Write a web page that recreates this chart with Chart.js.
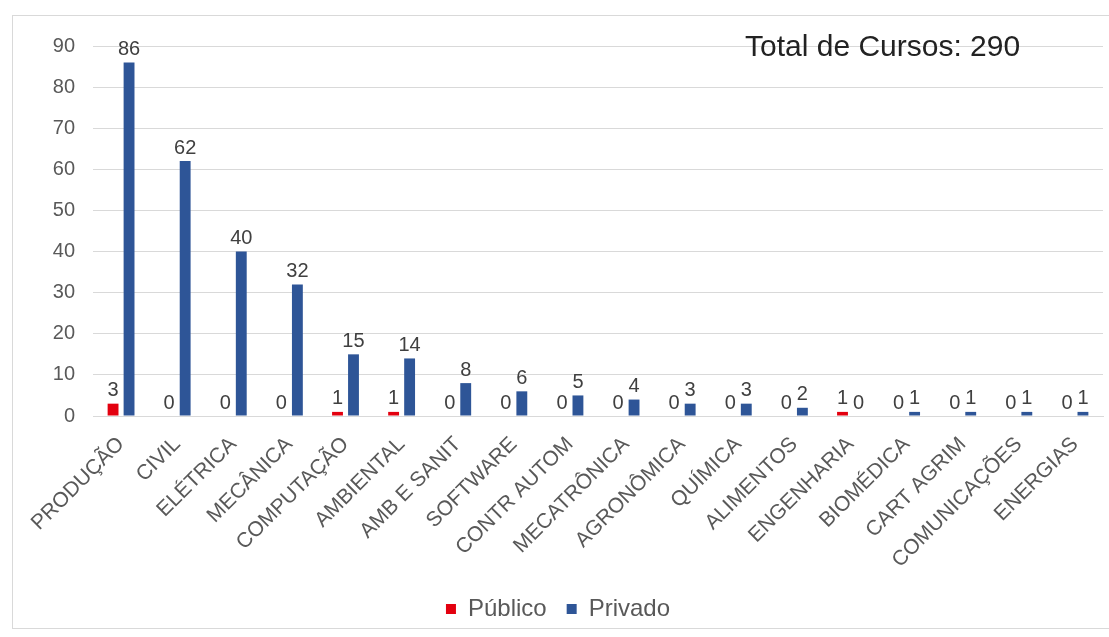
<!DOCTYPE html>
<html>
<head>
<meta charset="utf-8">
<script src="https://cdn.jsdelivr.net/npm/chart.js@4"></script>
<style>
  html, body { margin: 0; padding: 0; background: #fff; overflow: hidden; }
  #frame {
    position: absolute; left: 12px; top: 15px;
    width: 1097px; height: 614px;
    border: 1px solid #d9d9d9; border-right: none;
    box-sizing: border-box;
  }
  #chart { display: block; position: absolute; left: 0; top: 0; }
</style>
</head>
<body>
<div id="frame"><canvas id="chart" width="1096" height="615"></canvas></div>
<script>
// ===== dados =====
const categorias = ['PRODUÇÃO', 'CIVIL', 'ELÉTRICA', 'MECÂNICA', 'COMPUTAÇÃO', 'AMBIENTAL',
  'AMB E SANIT', 'SOFTWARE', 'CONTR AUTOM', 'MECATRÔNICA', 'AGRONÔMICA', 'QUÍMICA',
  'ALIMENTOS', 'ENGENHARIA', 'BIOMÉDICA', 'CART AGRIM', 'COMUNICAÇÕES', 'ENERGIAS'];
const publico = [3, 0, 0, 0, 1, 1, 0, 0, 0, 0, 0, 0, 0, 1, 0, 0, 0, 0];
const privado = [86, 62, 40, 32, 15, 14, 8, 6, 5, 4, 3, 3, 2, 0, 1, 1, 1, 1];
const yTicks = [0, 10, 20, 30, 40, 50, 60, 70, 80, 90];
const totalTexto = 'Total de Cursos: 290';

const colors = {
  red: '#e3000f',
  blue: '#2e5597',
  grid: '#d9d9d9',
  text: '#595959',
  label: '#404040'
};
const FONT = "'Liberation Sans', Arial, sans-serif";

// rótulos de valor acima das barras
const valueLabels = {
  id: 'valueLabels',
  afterDatasetsDraw(chart) {
    const ctx = chart.ctx;
    ctx.save();
    ctx.font = '20px ' + FONT;
    ctx.fillStyle = colors.label;
    ctx.textAlign = 'center';
    ctx.textBaseline = 'bottom';
    chart.data.datasets.forEach((ds, i) => {
      chart.getDatasetMeta(i).data.forEach((bar, j) => {
        ctx.fillText(String(ds.data[j]), bar.x, bar.y - 3);
      });
    });
    ctx.restore();
  }
};

// texto "Total de Cursos"
const totalLabel = {
  id: 'totalLabel',
  afterDraw(chart) {
    const ctx = chart.ctx;
    ctx.save();
    ctx.font = '30px ' + FONT;
    ctx.fillStyle = '#222';
    ctx.textAlign = 'left';
    ctx.textBaseline = 'alphabetic';
    ctx.fillText(totalTexto, 732, 40);
    ctx.restore();
  }
};

new Chart(document.getElementById('chart'), {
  type: 'bar',
  data: {
    labels: categorias,
    datasets: [
      { label: 'Público', data: publico, backgroundColor: colors.red,
        categoryPercentage: 0.57, barPercentage: 0.68 },
      { label: 'Privado', data: privado, backgroundColor: colors.blue,
        categoryPercentage: 0.57, barPercentage: 0.68 }
    ]
  },
  options: {
    responsive: false,
    animation: false,
    layout: { padding: { top: 24, right: 6, left: 0, bottom: 0 } },
    plugins: {
      legend: {
        position: 'bottom',
        labels: {
          color: colors.text,
          font: { family: FONT, size: 24 },
          boxWidth: 10, boxHeight: 10,
          padding: 20
        }
      },
      tooltip: { enabled: false }
    },
    scales: {
      x: {
        afterFit: s => { s.height = 161; },
        grid: { display: false, drawTicks: false },
        border: { color: colors.grid },
        ticks: {
          color: colors.text,
          font: { family: FONT, size: 21 },
          maxRotation: 45, minRotation: 45,
          autoSkip: false,
          padding: 16
        }
      },
      y: {
        min: 0, max: 90,
        afterBuildTicks: s => { s.ticks = yTicks.map(v => ({ value: v })); },
        afterFit: s => { s.width = 80; },
        grid: { color: colors.grid, drawTicks: false },
        border: { display: false },
        ticks: {
          color: colors.text,
          font: { family: FONT, size: 20 },
          padding: 18
        }
      }
    }
  },
  plugins: [valueLabels, totalLabel]
});
</script>
</body>
</html>
